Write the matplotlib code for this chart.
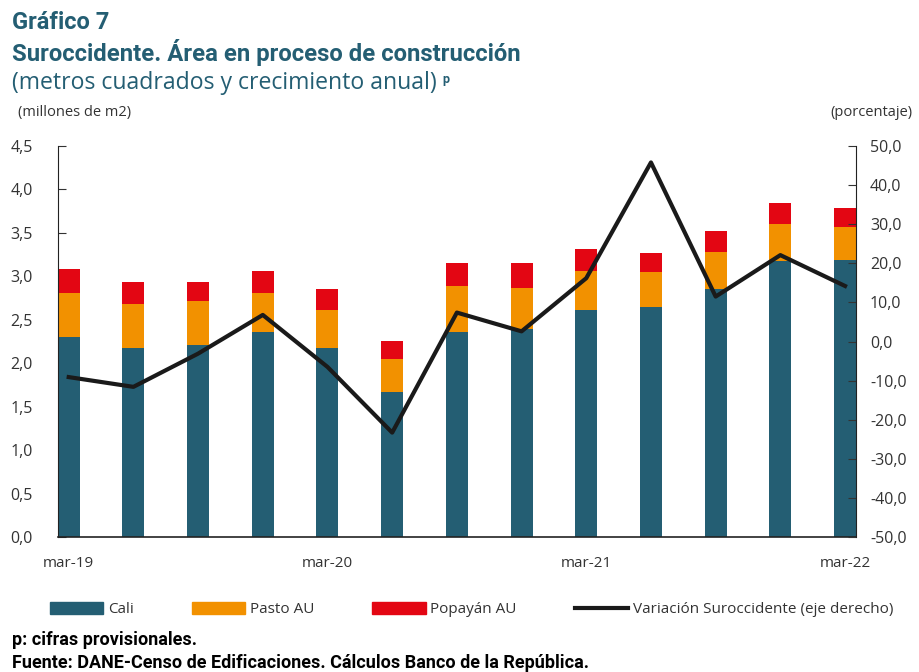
import matplotlib
matplotlib.use("Agg")
import matplotlib.pyplot as plt
from matplotlib.patches import Patch
from matplotlib.lines import Line2D
import numpy as np

quarters = ["mar-19", "jun-19", "sep-19", "dic-19", "mar-20", "jun-20", "sep-20",
            "dic-20", "mar-21", "jun-21", "sep-21", "dic-21", "mar-22"]
cali = [2.30, 2.17, 2.21, 2.36, 2.17, 1.67, 2.36, 2.39, 2.61, 2.65, 2.86, 3.18, 3.19]
pasto = [0.51, 0.51, 0.51, 0.45, 0.44, 0.38, 0.53, 0.48, 0.45, 0.40, 0.42, 0.42, 0.38]
popayan = [0.27, 0.26, 0.21, 0.25, 0.25, 0.21, 0.26, 0.28, 0.26, 0.22, 0.24, 0.24, 0.22]
variacion = [-9.1, -11.6, -3.1, 6.8, -6.5, -23.3, 7.4, 2.6, 16.2, 45.8, 11.5, 22.1, 14.2]
shown_labels = ["mar-19", "mar-20", "mar-21", "mar-22"]

c_cali = "#245e73"
c_pasto = "#f29100"
c_popayan = "#e30613"
c_title = "#245e73"
txt = "#333333"

plt.rcParams["font.family"] = ["Open Sans", "DejaVu Sans"]

fig = plt.figure(figsize=(9.19, 6.72), dpi=100)
ax = fig.add_axes([0.0628, 0.2009, 0.8687, 0.5818])
ax2 = ax.twinx()

x = np.arange(len(quarters))
w = 0.34
base2 = np.array(cali) + np.array(pasto)
ax.bar(x, cali, w, color=c_cali, zorder=2)
ax.bar(x, pasto, w, bottom=cali, color=c_pasto, zorder=2)
ax.bar(x, popayan, w, bottom=base2, color=c_popayan, zorder=2)
ax.set_xlim(-w / 2, len(x) - 1 + w / 2)
ax.set_ylim(0, 4.5)
ax.set_yticks(np.arange(0, 4.51, 0.5))
ax.set_yticklabels([f"{v:.1f}".replace(".", ",") for v in np.arange(0, 4.51, 0.5)])

ax2.plot(x, variacion, color="#1a1a1a", lw=3, zorder=3)
ax2.set_ylim(-50, 50)
ax2.set_yticks(np.arange(-50, 51, 10))
ax2.set_yticklabels([f"{v:.1f}".replace(".", ",") for v in np.arange(-50, 51, 10)])

pos = [quarters.index(q) for q in shown_labels]
ax.set_xticks(pos)
ax.set_xticklabels(shown_labels)
ax.tick_params(axis="x", length=0, pad=14, labelsize=11, colors=txt)
ax.tick_params(axis="y", direction="in", length=6, labelsize=11.5, colors=txt, pad=18)
ax2.tick_params(axis="y", direction="in", length=6, labelsize=11.5, colors=txt, pad=10)

for a in (ax, ax2):
    a.spines["top"].set_visible(False)
for s in ("left", "right", "bottom"):
    ax2.spines[s].set_color("#222222")
    ax.spines[s].set_color("#222222")
ax.spines["right"].set_visible(False)
ax2.spines["left"].set_visible(False)
ax2.spines["bottom"].set_visible(False)
ax.spines["bottom"].set_linewidth(1.2)

fig.text(0.013, 0.966, "Gráfico 7", fontsize=17, fontweight="bold", color=c_title,
         family="Roboto", va="center")
fig.text(0.013, 0.922, "Suroccidente. Área en proceso de construcción", fontsize=17.2,
         fontweight="bold", color=c_title, family="Roboto", va="center")
sub = fig.text(0.013, 0.876, "(metros cuadrados y crecimiento anual)", fontsize=16.6,
               color=c_title, family="Open Sans", va="center")
fig.canvas.draw()
bb = sub.get_window_extent()
fig.text(bb.x1 / fig.bbox.width + 0.006, 0.882, "p", fontsize=9, color=c_title,
         family="Roboto", va="center", fontweight="bold")
fig.text(0.02, 0.833, "(millones de m2)", fontsize=10.5, color=txt, va="center")
fig.text(0.993, 0.833, "(porcentaje)", fontsize=10.5, color=txt, va="center", ha="right")

handles = [Patch(color=c_cali), Patch(color=c_pasto), Patch(color=c_popayan),
           Line2D([], [], color="#1a1a1a", lw=3)]
labels = ["Cali", "Pasto AU", "Popayán AU", "Variación Suroccidente (eje derecho)"]
fig.legend(handles, labels, loc="center", bbox_to_anchor=(0.513, 0.093), ncol=4,
           frameon=False, fontsize=11, handlelength=3.5, handleheight=0.8,
           columnspacing=3.8, handletextpad=0.3, labelcolor=txt)

fig.text(0.013, 0.047, "p: cifras provisionales.", fontsize=13, color="black",
         family="Roboto", fontweight="bold", va="center")
fig.text(0.013, 0.013, "Fuente: DANE-Censo de Edificaciones. Cálculos Banco de la República.",
         fontsize=13, color="black", family="Roboto", fontweight="bold", va="center")

fig.savefig("out.png", dpi=100)
